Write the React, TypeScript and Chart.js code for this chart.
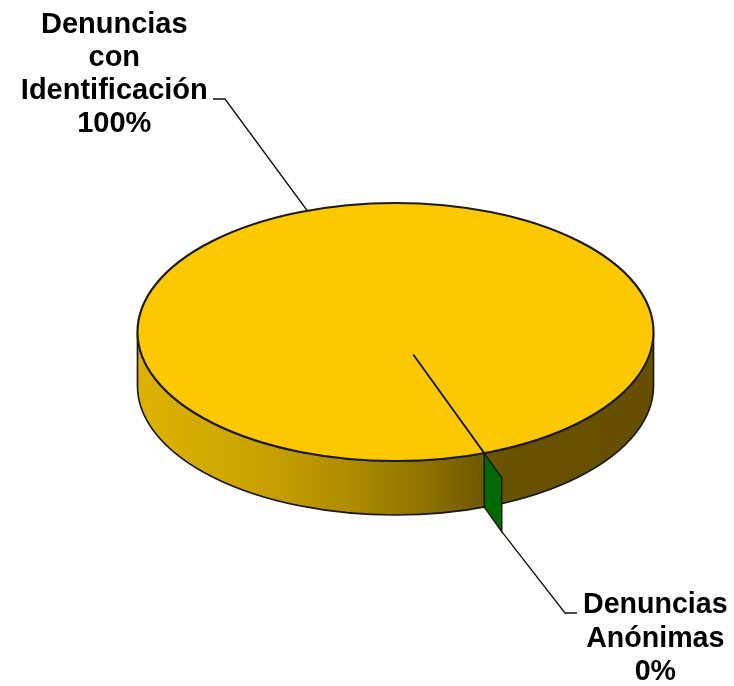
import React, { useEffect, useRef } from "react";
import { Chart, registerables } from "chart.js";

Chart.register(...registerables);

const categories = ["Denuncias con Identificación", "Denuncias Anónimas"];
const values = [99.9, 0.1];
const sliceColors = ["#FCC900", "#006A00"];
const labelLinesA = ["Denuncias", "con", "Identificación"];
const labelLinesB = ["Denuncias", "Anónimas"];

const GEO = { cx: 395.5, cy: 332, rx: 258, ry: 129, depth: 54 };
const FONT_A = 'bold 29px "Liberation Sans", Arial, sans-serif';
const FONT_B = 'bold 28.6px "Liberation Sans", Arial, sans-serif';
const OUTLINE = "#1c1a10";

const pie3d = {
  id: "pie3d",
  beforeDatasetsDraw(chart: any) {
    const { ctx } = chart;
    const { cx, cy, rx, ry, depth } = GEO;
    ctx.save();
    const g = ctx.createLinearGradient(cx - rx, 0, cx + rx, 0);
    g.addColorStop(0, "#DDB200");
    g.addColorStop(0.22, "#CCA400");
    g.addColorStop(0.4, "#B08D00");
    g.addColorStop(0.55, "#907300");
    g.addColorStop(0.67, "#6F5800");
    g.addColorStop(0.72, "#685200");
    g.addColorStop(1, "#665000");
    ctx.beginPath();
    ctx.ellipse(cx, cy, rx, ry, 0, 0, Math.PI, false);
    ctx.lineTo(cx - rx, cy + depth);
    ctx.ellipse(cx, cy + depth, rx, ry, 0, Math.PI, 0, true);
    ctx.closePath();
    ctx.fillStyle = g;
    ctx.fill();
    ctx.lineWidth = 1.7;
    ctx.strokeStyle = OUTLINE;
    ctx.stroke();
    ctx.restore();
  },
  beforeDatasetDraw(chart: any) {
    const { ctx } = chart;
    const arc = chart.getDatasetMeta(0).data[0];
    const { cx, cy, rx, ry } = GEO;
    ctx.save();
    ctx.translate(cx, cy);
    ctx.scale(rx / arc.outerRadius, ry / arc.outerRadius);
    ctx.translate(-arc.x, -arc.y);
  },
  afterDatasetDraw(chart: any) {
    chart.ctx.restore();
  },
  afterDatasetsDraw(chart: any) {
    const { ctx } = chart;
    const { cx, cy, rx, ry, depth } = GEO;
    const green = chart.getDatasetMeta(0).data[1];
    const mid = (green.startAngle + green.endAngle) / 2;
    const px = cx + rx * Math.cos(mid);
    const py = cy + ry * Math.sin(mid);
    const ox = 17.5;
    const oy = 24.5;

    ctx.save();
    // rim of the top face
    ctx.beginPath();
    ctx.ellipse(cx, cy, rx, ry, 0, 0, Math.PI * 2);
    ctx.lineWidth = 2.1;
    ctx.strokeStyle = OUTLINE;
    ctx.stroke();

    // cut face of the small slice
    ctx.beginPath();
    ctx.moveTo(px, py);
    ctx.lineTo(px + ox, py + oy);
    ctx.lineTo(px + ox, py + oy + depth);
    ctx.lineTo(px, py + depth);
    ctx.closePath();
    ctx.fillStyle = sliceColors[1];
    ctx.fill();
    ctx.lineWidth = 1.5;
    ctx.strokeStyle = "#101a08";
    ctx.stroke();

    // spoke on the top face
    ctx.beginPath();
    ctx.moveTo(cx + (px - cx) * 0.2, cy + (py - cy) * 0.185);
    ctx.lineTo(px, py);
    ctx.lineWidth = 1.8;
    ctx.strokeStyle = "#14120a";
    ctx.stroke();

    // leader lines
    ctx.lineWidth = 1.3;
    ctx.strokeStyle = "#111";
    ctx.beginPath();
    ctx.moveTo(px + ox, py + oy + depth);
    ctx.lineTo(565, 613);
    ctx.lineTo(577, 613);
    ctx.stroke();
    ctx.beginPath();
    ctx.moveTo(307.5, 211);
    ctx.lineTo(225, 99);
    ctx.lineTo(213, 99);
    ctx.stroke();

    // labels
    const pct = (i: number) => {
      const total = values.reduce((a, b) => a + b, 0);
      return Math.round((values[i] / total) * 100) + "%";
    };
    ctx.fillStyle = "#000";
    ctx.textAlign = "center";
    ctx.textBaseline = "alphabetic";
    ctx.font = FONT_A;
    [...labelLinesA, pct(0)].forEach((t, i) => ctx.fillText(t, 114.3, 32.5 + i * 33.3));
    ctx.font = FONT_B;
    [...labelLinesB, pct(1)].forEach((t, i) => ctx.fillText(t, 655.3, 613 + i * 33.5));
    ctx.restore();
  },
};

export default function App() {
  const ref = useRef<HTMLCanvasElement | null>(null);
  useEffect(() => {
    const chart = new Chart(ref.current as HTMLCanvasElement, {
      type: "pie",
      data: {
        labels: categories,
        datasets: [{ data: values, backgroundColor: sliceColors, borderColor: sliceColors[0], borderWidth: 2 }],
      },
      options: {
        responsive: false,
        animation: false,
        rotation: 160.06,
        events: [],
        plugins: { legend: { display: false }, tooltip: { enabled: false } },
      },
      plugins: [pie3d],
    } as any);
    return () => chart.destroy();
  }, []);
  return (
    <div style={{ position: "absolute", left: 0, top: 0, width: 734, height: 686, background: "#fff" }}>
      <canvas ref={ref} width={734} height={686} style={{ display: "block" }} />
    </div>
  );
}
